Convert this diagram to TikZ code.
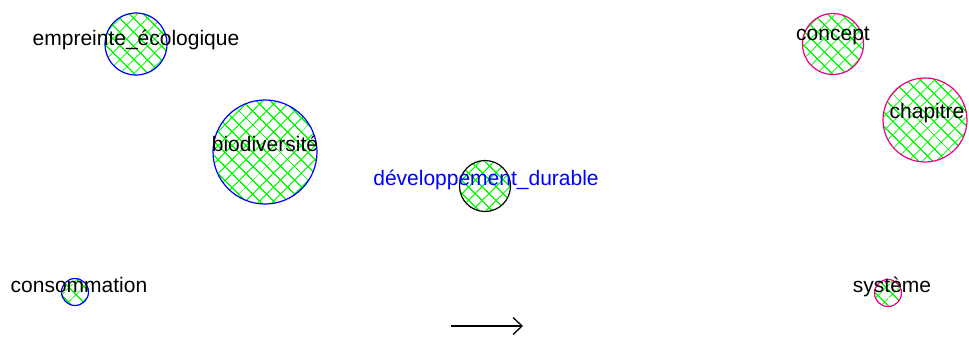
\documentclass[tikz,border=0pt]{standalone}
\usepackage{fontspec}
\setmainfont{Liberation Sans}
\usetikzlibrary{arrows.meta,patterns.meta}

\begin{document}
\begin{tikzpicture}[x=1pt,y=1pt,
  ball/.style={circle,inner sep=0pt,line width=1.2pt,
    pattern={Hatch[angle=45,distance=10.5pt,line width=1pt]},pattern color=green},
  blueball/.style={ball,draw=blue},
  pinkball/.style={ball,draw=magenta},
  darkball/.style={ball,draw=black},
  word/.style={anchor=base,inner sep=0pt,font=\fontsize{21}{25}\selectfont}]

\useasboundingbox (0,0) rectangle (969,-338);

% blue ones
\node[blueball,minimum size=62] (empreinte) at (136,-44) {};
\node[word] (empreintetxt) at ([yshift=-1]empreinte.center) {empreinte\_écologique};
\node[blueball,minimum size=104] (biodiv) at (265,-152) {};
\node[word] (biodivtxt) at ([yshift=1]biodiv.center) {biodiversité};
\node[blueball,minimum size=27] (conso) at (75,-292) {};
\node[word] (consotxt) at ([xshift=4]conso.center) {consommation};

% middle
\node[darkball,minimum size=51] (devdur) at (485,-186) {};
\node[word,text=blue] (devdurtxt) at ([xshift=1,yshift=1]devdur.center) {développement\_durable};

% pink ones
\node[pinkball,minimum size=61] (concept) at (833,-44) {};
\node[word] (concepttxt) at ([yshift=4]concept.center) {concept};
\node[pinkball,minimum size=84] (chapitre) at (925,-120) {};
\node[word] (chapitretxt) at ([xshift=2,yshift=2]chapitre.center) {chapitre};
\node[pinkball,minimum size=27] (systeme) at (888,-293) {};
\node[word] (systemetxt) at ([xshift=4,yshift=1]systeme.center) {système};

\coordinate (arrowtail) at (451,-326);
\coordinate (arrowtip) at (523,-326);
\draw[line width=1.3pt,-{Straight Barb[length=9pt,width=17pt]}] (arrowtail) -- (arrowtip);

\end{tikzpicture}
\end{document}
